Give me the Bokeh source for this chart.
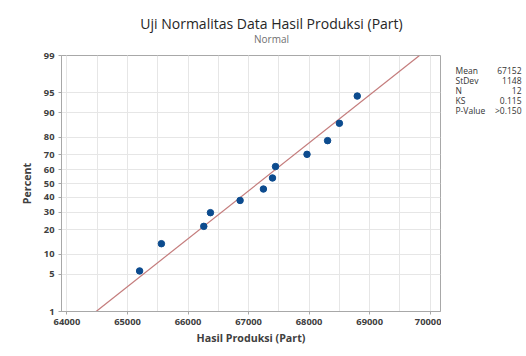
from statistics import NormalDist
from bokeh.plotting import figure
from bokeh.models import FixedTicker, Label, Range1d, ColumnDataSource
from bokeh.layouts import column, row
from bokeh.embed import file_html
from bokeh.resources import INLINE

# ---- data ----
production = [65200, 65560, 66260, 66370, 66860, 67245, 67395, 67445, 67965, 68305, 68500, 68795]
percent = [5.6, 13.7, 21.8, 29.8, 37.9, 46.0, 54.0, 62.1, 70.2, 78.2, 86.3, 94.4]
mean_val = 67152
stdev_val = 1148
n_val = 12
ks_val = 0.115
pval_text = ">0.150"
y_tick_pct = [1, 5, 10, 20, 30, 40, 50, 60, 70, 80, 90, 95, 99]
x_ticks = [64000, 65000, 66000, 67000, 68000, 69000, 70000]
x_minor = [63500 + 500 * i for i in range(15)]
title_text = "Uji Normalitas Data Hasil Produksi (Part)"
subtitle_text = "Normal"
stat_names = ["Mean", "StDev", "N", "KS", "P-Value"]
stat_values = [str(mean_val), str(stdev_val), str(n_val), f"{ks_val:.3f}", pval_text]

nd = NormalDist()
def z(p):
    return nd.inv_cdf(p / 100.0)

FONT = "Open Sans"
TOP_H = 47
MAIN_W = 441
H = 356

def blank_fig(w, h, **kw):
    fig = figure(frame_width=w, frame_height=h, title=None, output_backend="svg",
                 toolbar_location=None, x_axis_location=None, y_axis_location=None,
                 min_border=0, **kw)
    fig.grid.visible = False
    fig.outline_line_color = None
    return fig

# ---- title strip ----
t = blank_fig(526, TOP_H, x_range=Range1d(0, 526), y_range=Range1d(TOP_H, 0))
t.add_layout(Label(x=271, y=23, text=title_text, text_align="center",
                   text_baseline="alphabetic", text_font=FONT, text_font_size="14px",
                   text_color="#262626"))
t.add_layout(Label(x=271, y=38, text=subtitle_text, text_align="center",
                   text_baseline="alphabetic", text_font=FONT, text_font_size="10px",
                   text_color="#707070"))

# ---- main plot ----
src = ColumnDataSource(dict(x=production, y=[z(v) for v in percent]))
line_pct = [y_tick_pct[0], y_tick_pct[-1]]
line_src = ColumnDataSource(dict(
    x=[NormalDist(mean_val, stdev_val).inv_cdf(v / 100.0) for v in line_pct],
    y=[z(v) for v in line_pct]))

p = figure(width=MAIN_W, height=H - TOP_H, output_backend="svg", toolbar_location=None,
           x_range=Range1d(63910, 70170), y_range=Range1d(z(1), z(99)),
           min_border_left=61, min_border_right=1, min_border_top=55 - TOP_H,
           min_border_bottom=45)
p.outline_line_color = "#a8a8a8"

p.line("x", "y", source=line_src, line_color="#c47c7c", line_width=1.2)
p.scatter("x", "y", source=src, size=6.5, fill_color="#0c4b8e", line_color="#0c4b8e")

p.xaxis.ticker = FixedTicker(ticks=x_ticks, minor_ticks=x_minor)
p.yaxis.ticker = FixedTicker(ticks=[z(v) for v in y_tick_pct])
p.yaxis.major_label_overrides = {z(v): str(v) for v in y_tick_pct}
for ax in (p.xaxis[0], p.yaxis[0]):
    ax.axis_line_color = "#a8a8a8"
    ax.major_tick_line_color = "#a8a8a8"
    ax.major_tick_in = 0
    ax.major_tick_out = 3
    ax.minor_tick_line_color = None
    ax.major_label_text_font = FONT
    ax.major_label_text_font_size = "7pt"
    ax.major_label_text_font_style = "bold"
    ax.major_label_text_color = "#404040"
    ax.axis_label_text_font = FONT
    ax.axis_label_text_font_size = "8pt"
    ax.axis_label_text_font_style = "bold"
    ax.axis_label_text_color = "#404040"
p.xaxis.axis_label = "Hasil Produksi (Part)"
p.yaxis.axis_label = "Percent"
p.xaxis.major_label_standoff = 3
p.xaxis.axis_label_standoff = 3
p.yaxis.major_label_standoff = 4
p.yaxis.axis_label_standoff = 7

p.xgrid.grid_line_color = "#e6e6e6"
p.xgrid.minor_grid_line_color = "#e6e6e6"
p.ygrid.grid_line_color = "#e6e6e6"

# ---- stats panel ----
s = blank_fig(526 - MAIN_W, H - TOP_H,
              x_range=Range1d(MAIN_W, 526), y_range=Range1d(H, TOP_H))
for i, (nm, vv) in enumerate(zip(stat_names, stat_values)):
    yy = 62 + 10 * i
    s.add_layout(Label(x=455, y=yy, text=nm, text_align="left", text_baseline="middle",
                       text_font=FONT, text_font_size="8.5px", text_color="#333333"))
    s.add_layout(Label(x=521, y=yy, text=vv, text_align="right", text_baseline="middle",
                       text_font=FONT, text_font_size="8.5px", text_color="#333333"))

layout = column(t, row(p, s, spacing=0), spacing=0)
open("out.html", "w").write(file_html(layout, INLINE))
